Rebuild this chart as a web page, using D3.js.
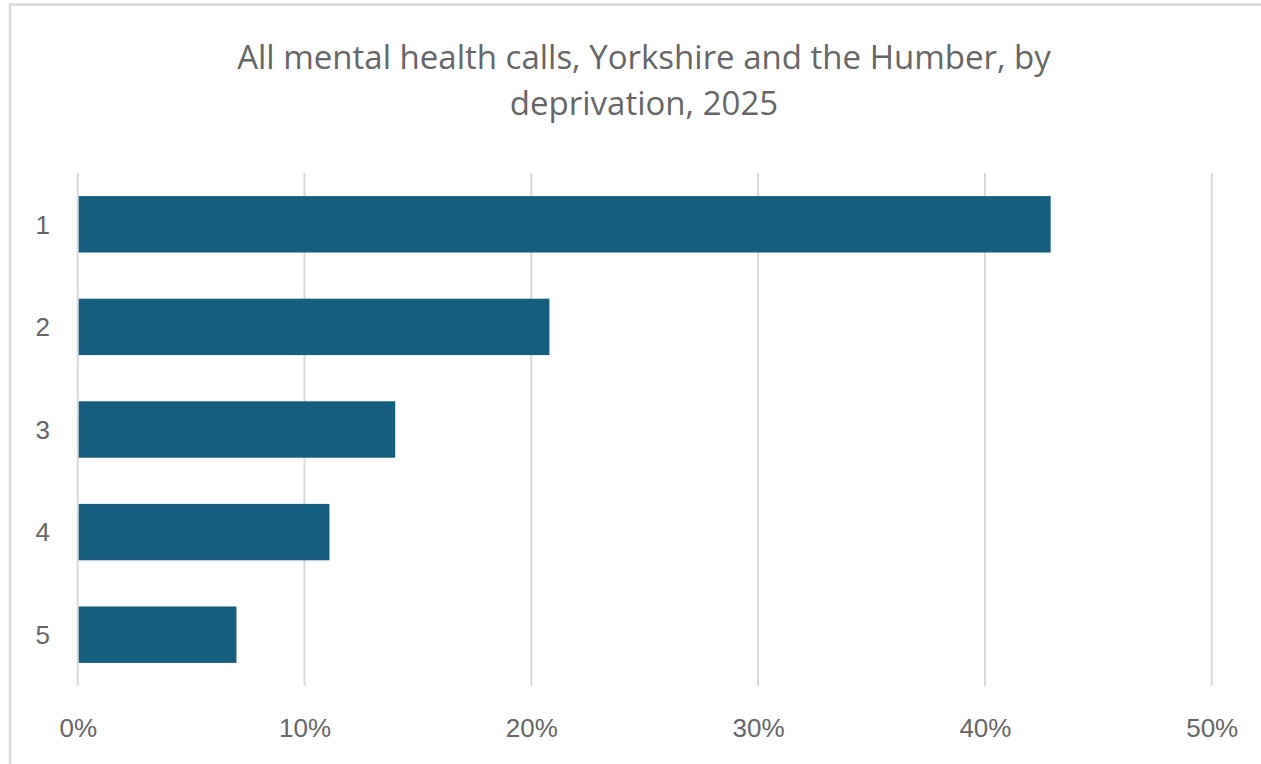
<!DOCTYPE html>
<html>
<head>
<meta charset="utf-8">
<script src="https://cdn.jsdelivr.net/npm/d3@7"></script>
<style>
  html, body { margin: 0; padding: 0; background: #fff; }
  svg { display: block; }
</style>
</head>
<body>
<svg id="chart" width="1261" height="764"></svg>
<script>
// Deprivation quintile (1 = most deprived) and share of calls
const categories = ["1", "2", "3", "4", "5"];
const shares = [0.429, 0.208, 0.140, 0.111, 0.070];
const xTicks = [0, 0.1, 0.2, 0.3, 0.4, 0.5];
const titleLines = [
  "All mental health calls, Yorkshire and the Humber, by",
  "deprivation, 2025"
];

const svg = d3.select("#chart");
const W = 1261, H = 764;

// frame around the chart area
svg.append("rect")
  .attr("x", 10).attr("y", 4.5)
  .attr("width", W + 10).attr("height", H + 10)
  .attr("fill", "#fff")
  .attr("stroke", "#d9d9d9").attr("stroke-width", 2.5);

const x = d3.scaleLinear().domain([0, 0.5]).range([77.7, 1211.7]);
const y = d3.scaleBand().domain(categories).range([173, 686])
  .paddingInner(0.45).paddingOuter(0.225);

// vertical gridlines
svg.append("g").selectAll("line")
  .data(xTicks)
  .join("line")
  .attr("x1", d => x(d)).attr("x2", d => x(d))
  .attr("y1", 173).attr("y2", 686)
  .attr("stroke", "#d9d9d9").attr("stroke-width", 2);

// bars
svg.append("g").selectAll("rect")
  .data(categories.map((c, i) => ({ c, v: shares[i] })))
  .join("rect")
  .attr("x", x(0) + 1)
  .attr("y", d => y(d.c))
  .attr("width", d => x(d.v) - x(0) - 1)
  .attr("height", y.bandwidth())
  .attr("fill", "#165e80");

// x axis labels
const xAxis = d3.axisBottom(x).tickValues(xTicks)
  .tickFormat(d3.format(".0%")).tickSize(0).tickPadding(0);
const gx = svg.append("g").attr("transform", "translate(0,710)").call(xAxis);
gx.select(".domain").remove();
gx.selectAll("text")
  .attr("dy", null).attr("y", 27)
  .attr("font-family", "'Liberation Sans', Arial, sans-serif")
  .attr("font-size", 26).attr("fill", "#666666");

// y axis labels
const yAxis = d3.axisLeft(y).tickSize(0).tickPadding(0);
const gy = svg.append("g").attr("transform", "translate(50,0)").call(yAxis);
gy.select(".domain").remove();
gy.selectAll("text")
  .attr("font-family", "'Liberation Sans', Arial, sans-serif")
  .attr("font-size", 26).attr("fill", "#666666")
  .attr("dy", "0.36em");

// title
svg.append("g").selectAll("text")
  .data(titleLines)
  .join("text")
  .attr("x", 644).attr("y", (d, i) => 69 + i * 46)
  .attr("text-anchor", "middle")
  .attr("font-family", "'Open Sans', sans-serif")
  .attr("font-size", 33).attr("fill", "#666666")
  .text(d => d);
</script>
</body>
</html>
